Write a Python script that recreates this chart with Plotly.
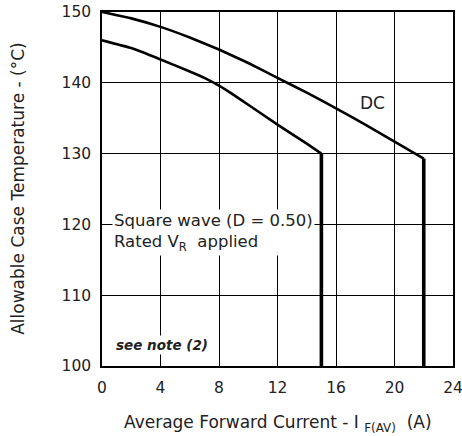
import plotly.graph_objects as go

dc_current = [0, 2, 4, 6, 8, 10, 12, 14, 16, 18, 20, 22, 22]
dc_temp = [150, 149.1, 147.9, 146.4, 144.7, 142.8, 140.7, 138.6, 136.4, 134.1, 131.7, 129.3, 100]
sw_current = [0, 2, 4, 6, 7, 8, 9, 10, 12, 14, 15, 15]
sw_temp = [146, 144.9, 143.3, 141.6, 140.7, 139.6, 138.3, 136.9, 134.1, 131.4, 130.0, 100]

x_ticks = [0, 4, 8, 12, 16, 20, 24]
y_ticks = [100, 110, 120, 130, 140, 150]

font = "DejaVu Sans, sans-serif"
fig = go.Figure()
for xs, ys in [(dc_current, dc_temp), (sw_current, sw_temp)]:
    fig.add_trace(go.Scatter(x=xs[:-1], y=ys[:-1], mode="lines",
                             line=dict(color="black", width=2.6, shape="spline", smoothing=0.4),
                             showlegend=False))
    fig.add_trace(go.Scatter(x=xs[-2:], y=ys[-2:], mode="lines",
                             line=dict(color="black", width=3.6), showlegend=False))

fig.add_annotation(x=18.5, y=137.1, text="DC", showarrow=False,
                   font=dict(size=17, color="#222", family=font))
fig.add_annotation(x=0.7, y=118.9, xanchor="left", yanchor="middle", align="left",
                   text="Square wave (D = 0.50)<br>Rated V<sub>R</sub>  applied",
                   showarrow=False, bgcolor="white", borderpad=1,
                   font=dict(size=16.5, color="#222", family=font))
fig.add_annotation(x=0.85, y=103.0, xanchor="left", yanchor="middle",
                   text="<b><i>see note (2)</i></b>", showarrow=False,
                   bgcolor="white", font=dict(size=13.5, color="#222", family=font))

fig.add_annotation(xref="paper", yref="paper", x=0.5, y=-0.162, yanchor="middle",
                   text="Average Forward Current - I <sub>F(AV)</sub>  (A)", showarrow=False,
                   font=dict(size=17, color="#222", family=font))
fig.add_annotation(xref="paper", yref="paper", x=-0.24, y=0.5, textangle=-90,
                   xanchor="center", yanchor="middle",
                   text="Allowable Case Temperature - (°C)", showarrow=False,
                   font=dict(size=17, color="#222", family=font))

fig.update_layout(
    width=462, height=436, margin=dict(l=102, r=9, t=12, b=70),
    plot_bgcolor="white", paper_bgcolor="white",
    font=dict(family=font, size=15.5, color="#222"),
    xaxis=dict(range=[0, 24], tickvals=x_ticks, showgrid=True, gridcolor="black",
               gridwidth=1, showline=True, linecolor="black", linewidth=1.5, mirror=True,
               zeroline=False, ticks="outside", ticklen=7, tickcolor="white",
               automargin=False, ticklabeloverflow="allow"),
    yaxis=dict(range=[100, 150], tickvals=y_ticks, showgrid=True, gridcolor="black",
               gridwidth=1, showline=True, linecolor="black", linewidth=1.5, mirror=True,
               zeroline=False, ticks="outside", ticklen=6, tickcolor="white",
               automargin=False, ticklabeloverflow="allow"),
)
fig.write_html("out.html", config={"displayModeBar": False},
               post_script="document.body.style.margin='0';document.body.style.overflow='hidden';")
